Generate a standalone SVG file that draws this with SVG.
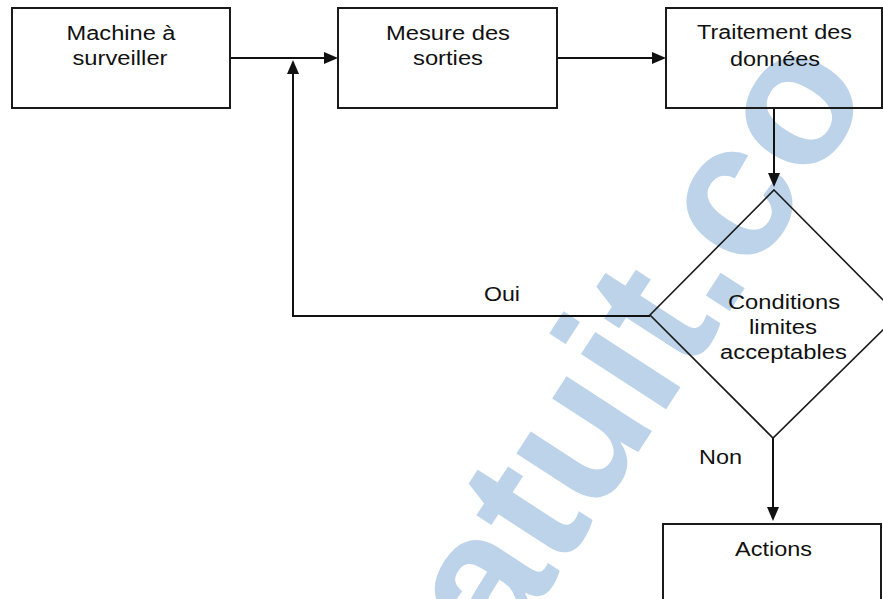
<svg xmlns="http://www.w3.org/2000/svg" width="883" height="599" viewBox="0 0 883 599">
  <style>
    .box { fill: none; stroke: #1a1a1a; stroke-width: 2; }
    .dia { fill: none; stroke: #1a1a1a; stroke-width: 1.6; }
    .lbl { font-family: "Liberation Sans", Arial, sans-serif; font-size: 20px; fill: #111; text-anchor: middle; }
    .conn { fill: none; stroke: #111; stroke-width: 2; }
    .wm { font-family: "Liberation Sans", Arial, sans-serif; font-weight: bold; font-size: 192px; fill: #bcd3ea; }
  </style>
  <defs>
    <marker id="arr" markerUnits="userSpaceOnUse" markerWidth="14" markerHeight="12" viewBox="0 0 14 12" refX="11" refY="6" orient="auto">
      <path d="M0,0 L14,6 L0,12 z" fill="#111"/>
    </marker>
  </defs>
  <rect width="883" height="599" fill="#ffffff"/>
  <g id="watermark">
    <text class="wm" transform="translate(502,662) rotate(-57)">atuit.co</text>
  </g>
  <g id="connectors">
    <path class="conn" d="M230,58 H335" marker-end="url(#arr)"/>
    <path class="conn" d="M557,58 H663" marker-end="url(#arr)"/>
    <path class="conn" d="M774,108 V184" marker-end="url(#arr)"/>
    <path class="conn" d="M650,316 H293 V63" marker-end="url(#arr)"/>
    <path class="conn" d="M773,438 V518" marker-end="url(#arr)"/>
    <text class="lbl" x="502" y="301" textLength="36" lengthAdjust="spacingAndGlyphs">Oui</text>
    <text class="lbl" x="720.5" y="464" textLength="43" lengthAdjust="spacingAndGlyphs">Non</text>
  </g>
  <g id="machine">
    <rect class="box" x="12" y="8" width="218" height="100"/>
    <text class="lbl" x="121" y="39.5" textLength="109" lengthAdjust="spacingAndGlyphs">Machine à</text>
    <text class="lbl" x="120" y="65" textLength="95" lengthAdjust="spacingAndGlyphs">surveiller</text>
  </g>
  <g id="mesure">
    <rect class="box" x="338" y="8" width="219" height="100"/>
    <text class="lbl" x="448" y="39.5" textLength="124" lengthAdjust="spacingAndGlyphs">Mesure des</text>
    <text class="lbl" x="448" y="65" textLength="70" lengthAdjust="spacingAndGlyphs">sorties</text>
  </g>
  <g id="traitement">
    <rect class="box" x="666" y="8" width="216" height="100"/>
    <text class="lbl" x="774.5" y="39" textLength="155" lengthAdjust="spacingAndGlyphs">Traitement des</text>
    <text class="lbl" x="775" y="65.5" textLength="90" lengthAdjust="spacingAndGlyphs">données</text>
  </g>
  <g id="conditions">
    <path class="dia" d="M774,190 L898,315 L773,438 L650,315 Z"/>
    <text class="lbl" x="784" y="309" textLength="112" lengthAdjust="spacingAndGlyphs">Conditions</text>
    <text class="lbl" x="783" y="334" textLength="68" lengthAdjust="spacingAndGlyphs">limites</text>
    <text class="lbl" x="783.5" y="359" textLength="127" lengthAdjust="spacingAndGlyphs">acceptables</text>
  </g>
  <g id="actions">
    <rect class="box" x="663" y="524" width="218" height="90"/>
    <text class="lbl" x="773.5" y="556" textLength="77" lengthAdjust="spacingAndGlyphs">Actions</text>
  </g>
</svg>
